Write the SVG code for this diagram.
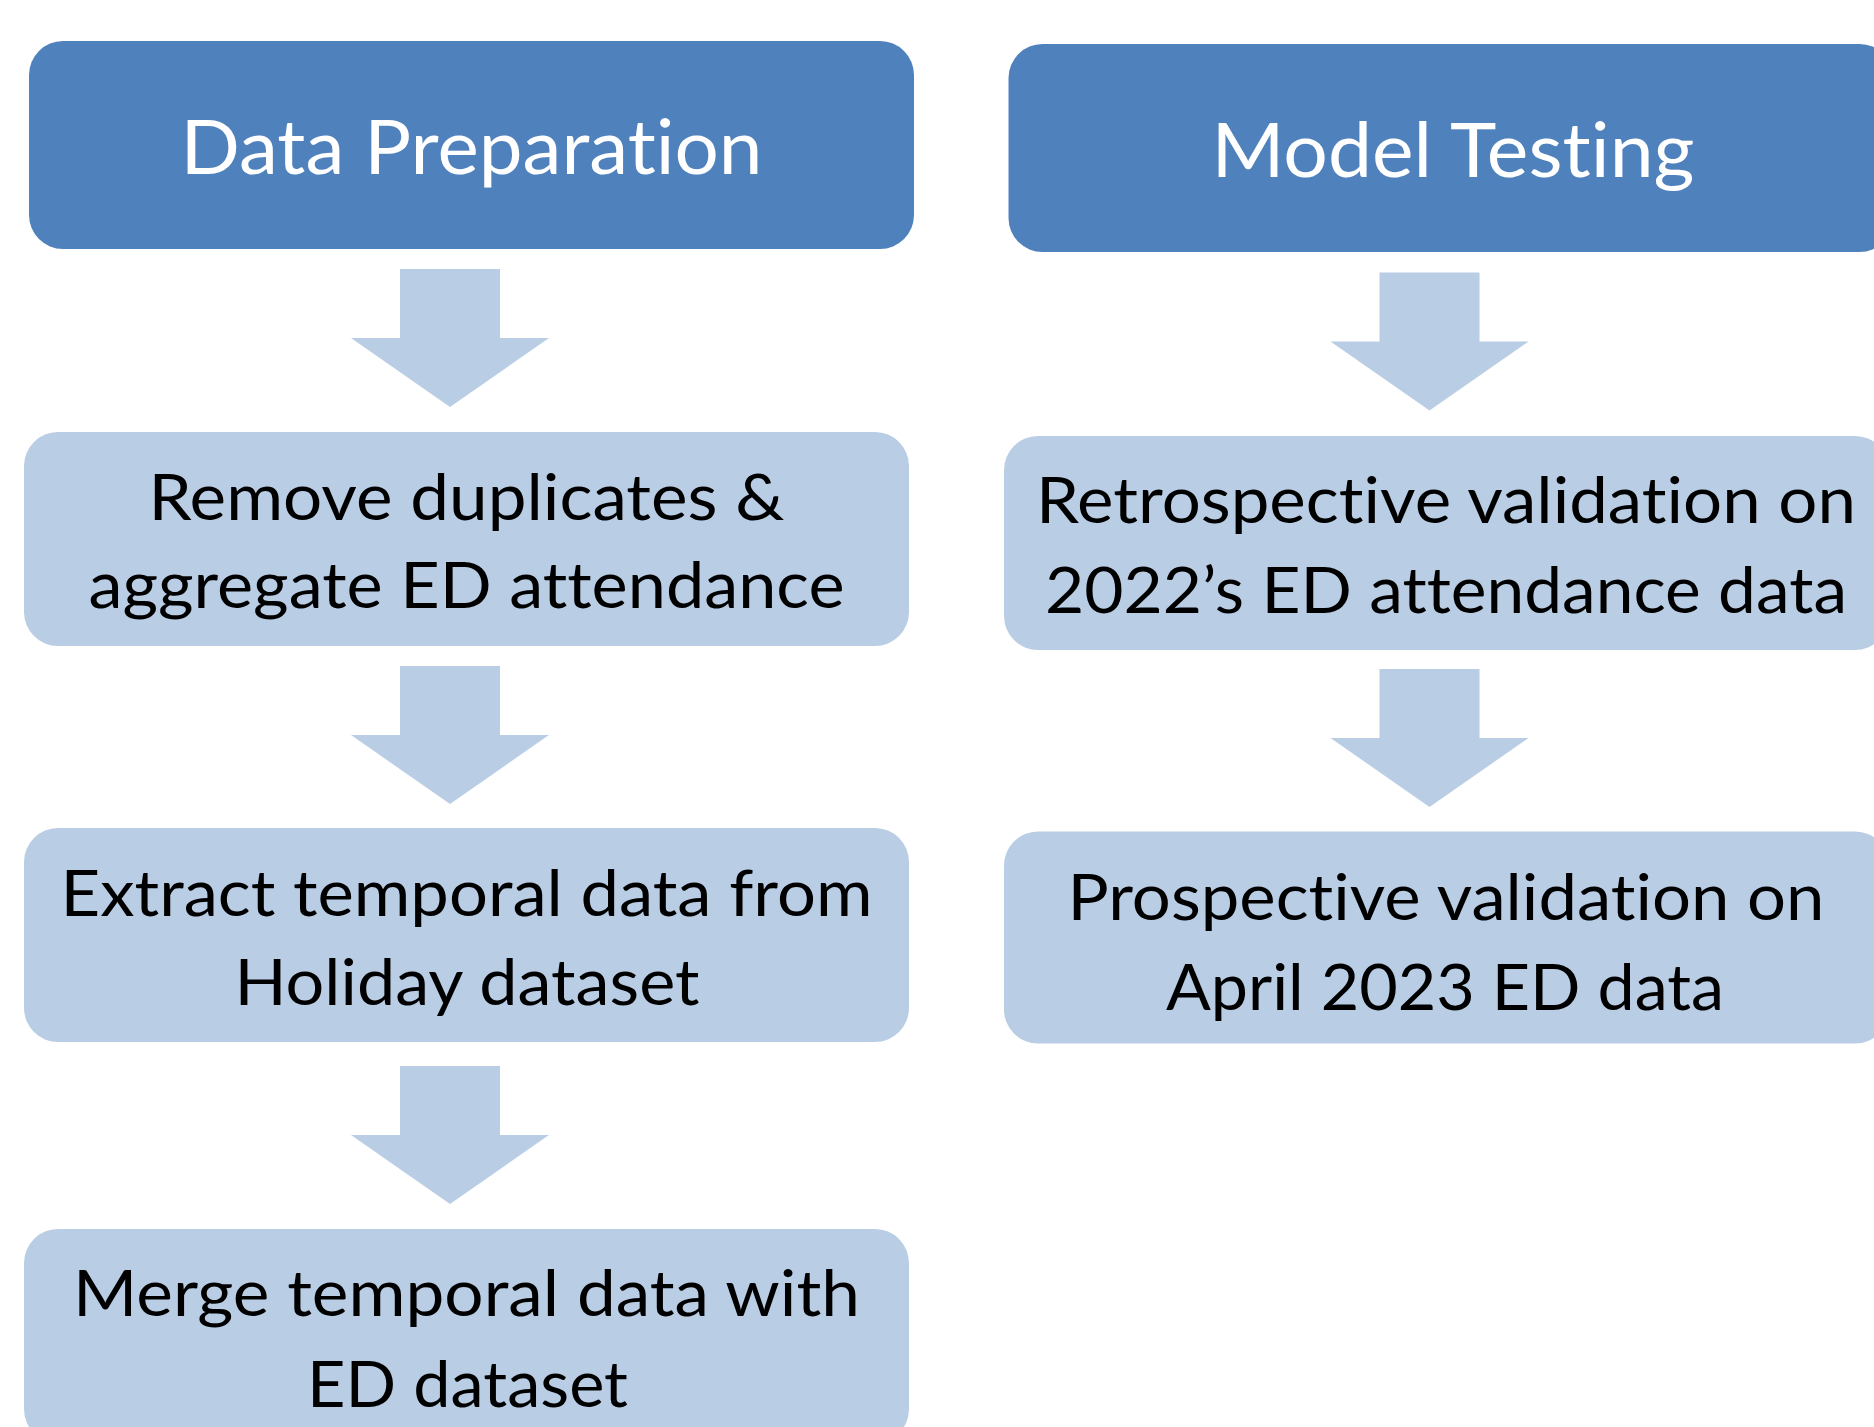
<svg xmlns="http://www.w3.org/2000/svg" xmlns:xlink="http://www.w3.org/1999/xlink" width="1874" height="1427" viewBox="0 0 1874 1427">
  <style>
    .head { fill: #4F81BD; }
    .step { fill: #B9CDE5; }
    .arrow { fill: #B9CDE5; }
    text {
      font-family: "Lato", "Liberation Sans", sans-serif;
      font-variant-ligatures: none;
      font-feature-settings: "liga" 0, "clig" 0, "dlig" 0, "calt" 0;
      letter-spacing: 0.01px;
      text-anchor: middle;
    }
    .htxt { font-size: 75px; fill: #FFFFFF; }
    .stxt { font-size: 64px; fill: #000000; }
  </style>
  <defs>
    <!-- block arrow pointing down; origin at the top centre of the stem -->
    <path id="downArrow" d="M -50,0 H 50 V 69 H 99 L 0,138 L -99,69 H -50 Z"/>
  </defs>

  <rect width="1874" height="1427" fill="#FFFFFF"/>

  <!-- connectors -->
  <g id="connectors" class="arrow">
    <use xlink:href="#downArrow" transform="translate(450,269)"/>
    <use xlink:href="#downArrow" transform="translate(450,666)"/>
    <use xlink:href="#downArrow" transform="translate(450,1066)"/>
    <use xlink:href="#downArrow" transform="translate(1429.5,272.5)"/>
    <use xlink:href="#downArrow" transform="translate(1429.5,669)"/>
  </g>

  <!-- left column: data preparation -->
  <g id="data-preparation">
    <rect class="head" x="29" y="41" width="885" height="208" rx="34" ry="34"/>
    <text class="htxt" x="471.5" y="174" textLength="582" lengthAdjust="spacingAndGlyphs">Data Preparation</text>
  </g>

  <g id="remove-duplicates">
    <rect class="step" x="24" y="432" width="885" height="214" rx="34" ry="34"/>
    <text class="stxt" x="466.5" y="519.5" textLength="636" lengthAdjust="spacingAndGlyphs">Remove duplicates &amp;</text>
    <text class="stxt" x="466.5" y="608" textLength="756" lengthAdjust="spacingAndGlyphs">aggregate ED attendance</text>
  </g>

  <g id="extract-temporal">
    <rect class="step" x="24" y="828" width="885" height="214" rx="34" ry="34"/>
    <text class="stxt" x="466.5" y="915.5" textLength="812" lengthAdjust="spacingAndGlyphs">Extract temporal data from</text>
    <text class="stxt" x="467" y="1005" textLength="465" lengthAdjust="spacingAndGlyphs">Holiday dataset</text>
  </g>

  <g id="merge-temporal">
    <rect class="step" x="24" y="1229" width="885" height="214" rx="34" ry="34"/>
    <text class="stxt" x="466.5" y="1316" textLength="787" lengthAdjust="spacingAndGlyphs">Merge temporal data with</text>
    <text class="stxt" x="467.5" y="1406.5" textLength="321" lengthAdjust="spacingAndGlyphs">ED dataset</text>
  </g>

  <!-- right column: model testing -->
  <g id="model-testing">
    <rect class="head" x="1008.5" y="44" width="885" height="208" rx="34" ry="34"/>
    <text class="htxt" x="1453" y="177.3" textLength="483" lengthAdjust="spacingAndGlyphs">Model Testing</text>
  </g>

  <g id="retrospective-validation">
    <rect class="step" x="1004" y="436" width="885" height="214" rx="34" ry="34"/>
    <text class="stxt" x="1446" y="523" textLength="820" lengthAdjust="spacingAndGlyphs">Retrospective validation on</text>
    <text class="stxt" x="1446" y="613" textLength="802" lengthAdjust="spacingAndGlyphs">2022’s ED attendance data</text>
  </g>

  <g id="prospective-validation">
    <rect class="step" x="1004" y="831.5" width="885" height="212" rx="34" ry="34"/>
    <text class="stxt" x="1446" y="919.5" textLength="757" lengthAdjust="spacingAndGlyphs">Prospective validation on</text>
    <text class="stxt" x="1445" y="1009.5" textLength="558" lengthAdjust="spacingAndGlyphs">April 2023 ED data</text>
  </g>
</svg>
